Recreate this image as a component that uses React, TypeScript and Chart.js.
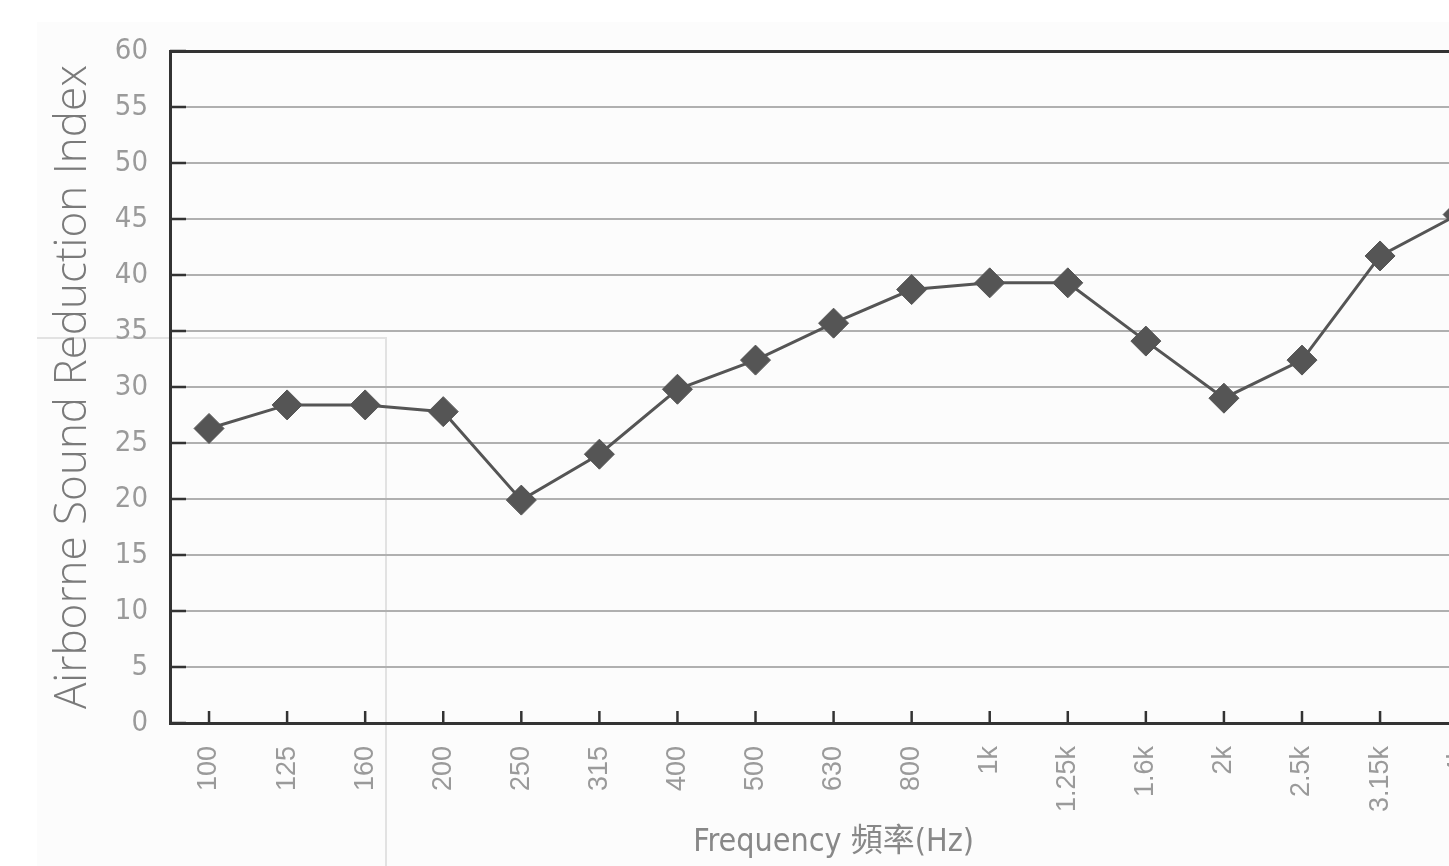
import React, { useEffect, useRef } from "react";
import { Chart, registerables } from "chart.js";

Chart.register(...registerables);

const frequencies = ["100", "125", "160", "200", "250", "315", "400", "500", "630", "800", "1k", "1.25k", "1.6k", "2k", "2.5k", "3.15k", "4k"];
const reductionIndex = [26.3, 28.4, 28.4, 27.8, 19.9, 24.0, 29.8, 32.4, 35.7, 38.7, 39.3, 39.3, 34.1, 29.0, 32.4, 41.7, 45.4];
const yTicks = [0, 5, 10, 15, 20, 25, 30, 35, 40, 45, 50, 55, 60];
const yTitle = "Airborne Sound Reduction Index";
const xTitle = "Frequency 頻率(Hz)";

const condensed = "'DejaVu Sans Condensed', 'Liberation Sans Narrow', 'Liberation Sans', sans-serif";

const innerTicks = {
  id: "innerTicks",
  afterDatasetsDraw(chart: any) {
    const { ctx, chartArea, scales } = chart;
    const x = scales.x;
    const y = scales.y;
    ctx.save();
    ctx.strokeStyle = "#333";
    ctx.lineWidth = 2.5;
    x.ticks.forEach((_t: any, i: number) => {
      const px = x.getPixelForTick(i);
      ctx.beginPath();
      ctx.moveTo(px, chartArea.bottom);
      ctx.lineTo(px, chartArea.bottom - 12);
      ctx.stroke();
    });
    y.ticks.forEach((_t: any, i: number) => {
      const py = y.getPixelForTick(i);
      ctx.beginPath();
      ctx.moveTo(chartArea.left, py);
      ctx.lineTo(chartArea.left + 16, py);
      ctx.stroke();
    });
    ctx.restore();
  },
};

export default function App() {
  const ref = useRef<HTMLCanvasElement | null>(null);

  useEffect(() => {
    if (!ref.current) return;
    const chart = new Chart(ref.current, {
      type: "line",
      data: {
        labels: frequencies,
        datasets: [
          {
            data: reductionIndex,
            borderColor: "#555555",
            backgroundColor: "#555555",
            borderWidth: 3,
            pointStyle: "rectRot",
            pointRadius: 15,
            pointBorderWidth: 1,
            pointBackgroundColor: "#555555",
            pointBorderColor: "#555555",
            tension: 0,
          },
        ],
      },
      options: {
        animation: false,
        responsive: false,
        maintainAspectRatio: false,
        layout: { padding: { left: 0, top: 51, right: 4, bottom: 0 } },
        plugins: { legend: { display: false }, tooltip: { enabled: false } },
        scales: {
          x: {
            type: "category",
            offset: true,
            afterFit: (scale: any) => {
              scale.height = 143;
            },
            grid: { display: false, drawTicks: false },
            border: { display: true, color: "#333", width: 3 },
            ticks: {
              color: "#9a9a9a",
              font: { family: "'Liberation Sans', sans-serif", size: 27 },
              minRotation: 90,
              maxRotation: 90,
              padding: 23,
              autoSkip: false,
            },
            title: {
              display: true,
              text: xTitle,
              color: "#888",
              font: { family: condensed.replace("sans-serif", "'Noto Sans CJK TC', sans-serif"), size: 32 },
              padding: { top: 0, bottom: 4 },
            },
          },
          y: {
            min: 0,
            max: 60,
            afterBuildTicks: (axis: any) => {
              axis.ticks = yTicks.map((v) => ({ value: v }));
            },
            afterFit: (scale: any) => {
              scale.width = 170;
            },
            grid: {
              drawTicks: false,
              color: (c: any) => (c.tick && c.tick.value === 60 ? "#333" : "#b0b0b0"),
              lineWidth: (c: any) => (c.tick && c.tick.value === 60 ? 3 : 2),
            },
            border: { display: true, color: "#333", width: 3 },
            ticks: {
              color: "#9a9a9a",
              font: { family: condensed, size: 29 },
              padding: 22,
            },
            title: {
              display: true,
              text: yTitle,
              color: "#7a7a7a",
              font: { family: "'Open Sans', sans-serif", size: 44, weight: "300" as any, lineHeight: 1.2 },
              padding: { top: 47, bottom: 0 },
            },
          },
        },
      },
      plugins: [innerTicks],
    });
    return () => chart.destroy();
  }, []);

  return (
    <div style={{ position: "fixed", left: 0, top: 0, width: 1449, height: 866, overflow: "hidden", background: "#ffffff" }}>
      <div style={{ position: "absolute", left: 37, top: 22, right: 0, bottom: 0, background: "#fcfcfc" }} />
      <div style={{ position: "absolute", left: 37, top: 337, width: 348, height: 600, borderTop: "2px solid #e2e2e2", borderRight: "2px solid #e2e2e2" }} />
      <canvas ref={ref} width={1514} height={866} style={{ position: "absolute", left: 0, top: 0, width: 1514, height: 866 }} />
    </div>
  );
}
